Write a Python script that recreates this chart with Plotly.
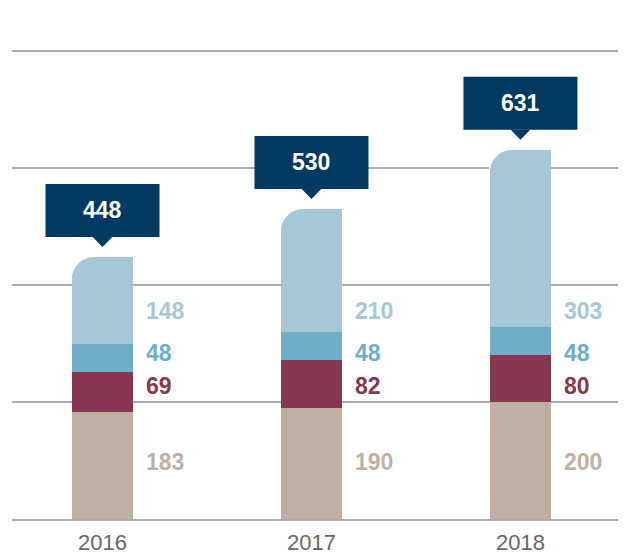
import plotly.graph_objects as go

years = ["2016", "2017", "2018"]
base = [183, 190, 200]
second = [69, 82, 80]
third = [48, 48, 48]
top = [148, 210, 303]
totals = [448, 530, 631]

colors = ["#bfb0a3", "#873850", "#6fadc8", "#a5c7d8"]
series = [base, second, third, top]
label_y = [98, 228, 283, 356]  # label positions (data units)

x = list(range(len(years)))
bar_w = 0.292
fig = go.Figure()
for vals, col in zip(series, colors):
    fig.add_trace(go.Bar(x=x, y=vals, marker=dict(color=col, line=dict(width=0)),
                         width=bar_w, hoverinfo="skip"))

font = "Liberation Sans, Arial, Helvetica, sans-serif"
ann = []
shapes = []
# px scale factors
px_x = 209.0
px_y = 0.585
for i in x:
    for vals, col, ly in zip(series, colors, label_y):
        ann.append(dict(x=i + bar_w / 2 + 11 / px_x, y=ly, text=f"<b>{vals[i]}</b>",
                        showarrow=False, xanchor="left", yanchor="middle",
                        font=dict(family=font, size=23, color=col)))
    t = sum(s[i] for s in series)
    # rounded top-left corner mask
    r = 21
    rx, ry = r / px_x, r / px_y
    k = 0.45
    x0 = i - bar_w / 2
    shapes.append(dict(type="path",
                       path=(f"M {x0-0.005},{t-ry} L {x0-0.005},{t+1} L {x0+rx},{t+1} L {x0+rx},{t} "
                             f"C {x0+rx*k},{t} {x0},{t-ry*(1-k)} {x0},{t-ry} Z"),
                       fillcolor="white", line=dict(width=0), layer="above"))
    # callout box
    hw = 57 / px_x
    yb = t + 20 / px_y
    yt = yb + 53 / px_y
    shapes.append(dict(type="rect", x0=i - hw, x1=i + hw, y0=yb, y1=yt,
                       fillcolor="#003a62", line=dict(width=0), layer="above"))
    pw = 10 / px_x
    tip = t + 10 / px_y
    shapes.append(dict(type="path", path=f"M {i-pw},{yb+0.5} L {i+pw},{yb+0.5} L {i},{tip} Z",
                       fillcolor="#003a62", line=dict(width=0), layer="above"))
    ann.append(dict(x=i, y=(yb + yt) / 2, text=f"<b>{totals[i]}</b>", showarrow=False,
                    xanchor="center", yanchor="middle",
                    font=dict(family=font, size=23, color="white")))

fig.update_layout(
    barmode="stack", showlegend=False,
    width=618, height=548,
    margin=dict(l=4, r=0, t=0, b=37, autoexpand=False),
    paper_bgcolor="white", plot_bgcolor="white",
    annotations=ann, shapes=shapes,
    xaxis=dict(range=[-0.433, 2.505], tickvals=x, ticktext=years, showgrid=False,
               zeroline=False, showline=True, linecolor="#ababab", linewidth=1.5,
               ticks="", ticklabelstandoff=3, automargin=False,
               tickfont=dict(family=font, size=22, color="#686868")),
    yaxis=dict(range=[0, 873.5], tick0=0, dtick=200, showgrid=True, gridcolor="#ababab",
               gridwidth=1.5, zeroline=False, showticklabels=False, ticks="",
               automargin=False),
)
fig.write_html("out.html")
